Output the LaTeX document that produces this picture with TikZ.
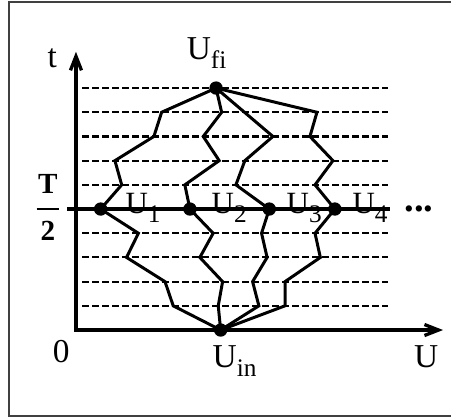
\documentclass[tikz,border=0pt]{standalone}
\usepackage{fontspec}
\setmainfont{Liberation Serif}
\usepackage{tikz}
\usetikzlibrary{arrows.meta}
\newcommand{\sublab}[1]{\raisebox{-2.6pt}{\fontsize{7.2}{8}\selectfont #1}}
\tikzset{
  dot/.style={circle,fill=black,inner sep=0pt,minimum size=3.8pt},
  lbl/.style={inner sep=0pt,anchor=base west,font=\fontsize{9.5}{11}\selectfont},
  ulbl/.style={lbl,font=\fontsize{8.8}{10}\selectfont},
  axis/.style={line width=0.95pt},
  walk/.style={line width=0.85pt,line join=miter},
  level/.style={line width=0.6pt,dash pattern=on 1.9pt off 0.95pt}
}

\begin{document}
\begin{tikzpicture}[x=0.242cm,y=0.242cm]
\useasboundingbox (-3.14,-3.64) rectangle (15.50,13.64);
\draw[line width=0.6pt,black!75] (15.6,13.55) -- (-2.77,13.55) -- (-2.77,-3.55) -- (15.6,-3.55);
% axes
\coordinate (o) at (0,0); \coordinate (ytop) at (0,11.5); \coordinate (xend) at (15.17,0);
\draw[axis,{Straight Barb[length=1.4mm,width=1.1mm]}-{Straight Barb[length=1.4mm,width=1.1mm]}] (ytop) -- (o) -- (xend);
\foreach \k in {1,2,3,4,6,7,8,9,10} \draw[level] (0.25,\k) -- (12.89,\k);
\coordinate (hl) at (-0.37,5); \coordinate (hr) at (12.97,5);
\draw[axis] (hl) -- (hr);
% end points and crossings at T/2
\node[dot] (fi) at (5.79,10) {};
\node[dot] (in) at (5.98,0) {};
\node[dot] (u1) at (1.02,5) {};
\node[dot] (u2) at (4.71,5) {};
\node[dot] (u3) at (7.99,5) {};
\node[dot] (u4) at (10.70,5) {};
% paths
\draw[walk] (fi.center) -- (3.54,9) -- (3.22,8) -- (1.61,7) -- (1.89,6) -- (u1.center) -- (2.58,4) -- (2.09,3) -- (3.68,2) -- (4.02,1) -- (in.center);
\draw[walk] (fi.center) -- (6.02,9) -- (5.26,8) -- (5.92,7) -- (4.50,6) -- (u2.center) -- (5.67,4) -- (5.12,3) -- (6.06,2) -- (5.88,1) -- (in.center);
\draw[walk] (fi.center) -- (8.14,8) -- (6.98,7) -- (6.61,6) -- (u3.center) -- (7.67,4) -- (7.90,3) -- (7.30,2) -- (7.56,1) -- (in.center);
\draw[walk] (fi.center) -- (9.96,9) -- (9.67,8) -- (10.62,7) -- (9.88,6) -- (u4.center) -- (9.88,4) -- (10.10,3) -- (8.64,2) -- (8.64,1) -- (in.center);
% labels
\node[lbl] (tlab) at (-1.2,10.87) {t};
\node[lbl] (zero) at (-0.98,-1.36) {0};
\node[lbl] (ulab) at (13.95,-1.53) {U};
\node[lbl] (filab) at (4.55,11.2) {U\sublab{fi}};
\node[lbl] (inlab) at (5.62,-1.53) {U\sublab{in}};
\node[ulbl] (u1lab) at (2.02,4.83) {U\sublab{1}};
\node[ulbl] (u2lab) at (5.58,4.83) {U\sublab{2}};
\node[ulbl] (u3lab) at (8.68,4.83) {U\sublab{3}};
\node[ulbl] (u4lab) at (11.40,4.83) {U\sublab{4}};
\node[lbl,font=\bfseries\fontsize{11}{12}\selectfont] (more) at (13.55,4.9) {...};
\node[align=center,inner sep=0pt,font=\bfseries\fontsize{8.3}{13.4}\selectfont] (half) at (-1.16,5.05) {T\\2};
\draw[line width=0.65pt] (-1.63,5) -- (-0.72,5);
\end{tikzpicture}
\end{document}
